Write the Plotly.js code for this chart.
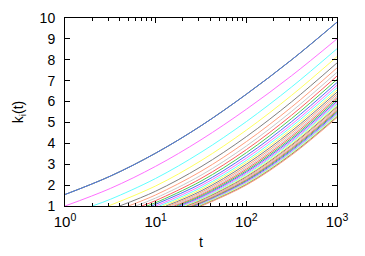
<!DOCTYPE html>
<html>
<head>
<meta charset="utf-8">
<script src="https://cdn.plot.ly/plotly-3.0.1.min.js"></script>
<style>html,body{margin:0;padding:0;background:#fff;}#chart{width:365px;height:256px;}</style>
</head>
<body>
<div id="chart"></div>
<script>
const tGrid = [3.162, 10, 31.62, 100, 316.2, 1000];
// Birth time of each curve (first three are the initial nodes)
const birthTimes = [1, 1, 1, 1, 2, 3, 4, 5, 6, 7, 8, 9, 10, 11, 12, 13, 14, 15, 16, 17, 18, 19, 20, 21, 22, 23, 24, 25, 26, 27, 28, 29, 30, 31, 32];
// Value of k at birth
const birthValues = [1.55, 1.55, 1.55, 1, 1, 1, 1, 1, 1, 1, 1, 1, 1, 1, 1, 1, 1, 1, 1, 1, 1, 1, 1, 1, 1, 1, 1, 1, 1, 1, 1, 1, 1, 1, 1];
// k_i(t) read at tGrid (null = before birth)
const kValues = [
  [2.43, 3.53, 4.84, 6.35, 8.00, 9.80],
  [2.43, 3.53, 4.84, 6.35, 8.00, 9.80],
  [2.43, 3.53, 4.84, 6.35, 8.00, 9.80],
  [1.84, 2.90, 4.17, 5.63, 7.24, 9.00],
  [1.32, 2.32, 3.57, 5.04, 6.70, 8.53],
  [null, 1.96, 3.17, 4.63, 6.30, 8.15],
  [null, 1.71, 2.88, 4.32, 5.99, 7.85],
  [null, 1.53, 2.66, 4.08, 5.74, 7.61],
  [null, 1.38, 2.47, 3.87, 5.53, 7.40],
  [null, 1.26, 2.32, 3.70, 5.35, 7.22],
  [null, 1.16, 2.19, 3.55, 5.19, 7.06],
  [null, null, 2.07, 3.41, 5.04, 6.91],
  [null, null, 1.97, 3.29, 4.91, 6.78],
  [null, null, 1.88, 3.18, 4.80, 6.66],
  [null, null, 1.80, 3.09, 4.69, 6.55],
  [null, null, 1.72, 3.00, 4.59, 6.45],
  [null, null, 1.65, 2.91, 4.50, 6.35],
  [null, null, 1.59, 2.83, 4.41, 6.26],
  [null, null, 1.53, 2.76, 4.33, 6.18],
  [null, null, 1.48, 2.69, 4.25, 6.10],
  [null, null, 1.43, 2.63, 4.18, 6.02],
  [null, null, 1.39, 2.57, 4.11, 5.95],
  [null, null, 1.34, 2.51, 4.05, 5.88],
  [null, null, 1.30, 2.45, 3.98, 5.81],
  [null, null, 1.27, 2.40, 3.92, 5.75],
  [null, null, 1.23, 2.35, 3.87, 5.69],
  [null, null, 1.20, 2.31, 3.81, 5.63],
  [null, null, 1.17, 2.26, 3.76, 5.57],
  [null, null, 1.14, 2.22, 3.71, 5.52],
  [null, null, 1.11, 2.18, 3.66, 5.47],
  [null, null, null, 2.14, 3.61, 5.41],
  [null, null, null, 2.10, 3.57, 5.37],
  [null, null, null, 2.07, 3.52, 5.32],
  [null, null, null, 2.03, 3.48, 5.27],
  [null, null, null, 2.00, 3.44, 5.23]
];
const palette = ['#ff6060', '#50c850', '#5070f0', '#ff70ff', '#60ffff', '#ffff60', '#808080', '#ffa080', '#c8c8c8'];
const xTickVals = [1, 10, 100, 1000];
const xTickText = ['10<sup>0</sup>', '10<sup>1</sup>', '10<sup>2</sup>', '10<sup>3</sup>'];
const yTickVals = [1, 2, 3, 4, 5, 6, 7, 8, 9, 10];

const traces = kValues.map((vals, i) => {
  const x = [birthTimes[i]];
  const y = [birthValues[i]];
  vals.forEach((v, j) => { if (v !== null && tGrid[j] > birthTimes[i]) { x.push(tGrid[j]); y.push(v); } });
  return {x: x, y: y, type: 'scatter', mode: 'lines',
    line: {color: palette[i % palette.length], width: 1, shape: 'spline', smoothing: 1},
    hoverinfo: 'skip', showlegend: false};
});

const font = {family: 'Liberation Sans, Arial, sans-serif', size: 13, color: '#000'};
const layout = {
  width: 365, height: 256,
  margin: {l: 65, r: 28, t: 18, b: 50},
  paper_bgcolor: '#fff', plot_bgcolor: '#fff',
  font: font,
  showlegend: false,
  xaxis: {
    type: 'log', range: [0, 3],
    tickvals: xTickVals, ticktext: xTickText,
    ticks: 'inside', ticklen: 5, tickwidth: 1, tickcolor: '#000',
    minor: {ticks: 'inside', ticklen: 3, tickcolor: '#000', dtick: 'D1', showgrid: false},
    showline: true, linecolor: '#000', linewidth: 1, mirror: 'allticks',
    showgrid: false, zeroline: false,
    tickfont: {family: 'Liberation Sans, Arial, sans-serif', size: 15, color: '#000'},
    ticklabelstandoff: 2,
    title: {text: 't', font: {family: 'Liberation Sans, Arial, sans-serif', size: 14, color: '#000'}, standoff: 8}
  },
  yaxis: {
    range: [1, 10],
    tickvals: yTickVals,
    ticks: 'inside', ticklen: 5, tickwidth: 1, tickcolor: '#000',
    showline: true, linecolor: '#000', linewidth: 1, mirror: 'allticks',
    showgrid: false, zeroline: false,
    tickfont: {family: 'Liberation Sans, Arial, sans-serif', size: 14, color: '#000'},
    ticklabelstandoff: 6,
    title: {text: 'k<sub>i</sub>(t)', font: {family: 'Liberation Sans, Arial, sans-serif', size: 14, color: '#000'}, standoff: 12}
  }
};

Plotly.newPlot('chart', traces, layout, {staticPlot: true, displayModeBar: false});
</script>
</body>
</html>
